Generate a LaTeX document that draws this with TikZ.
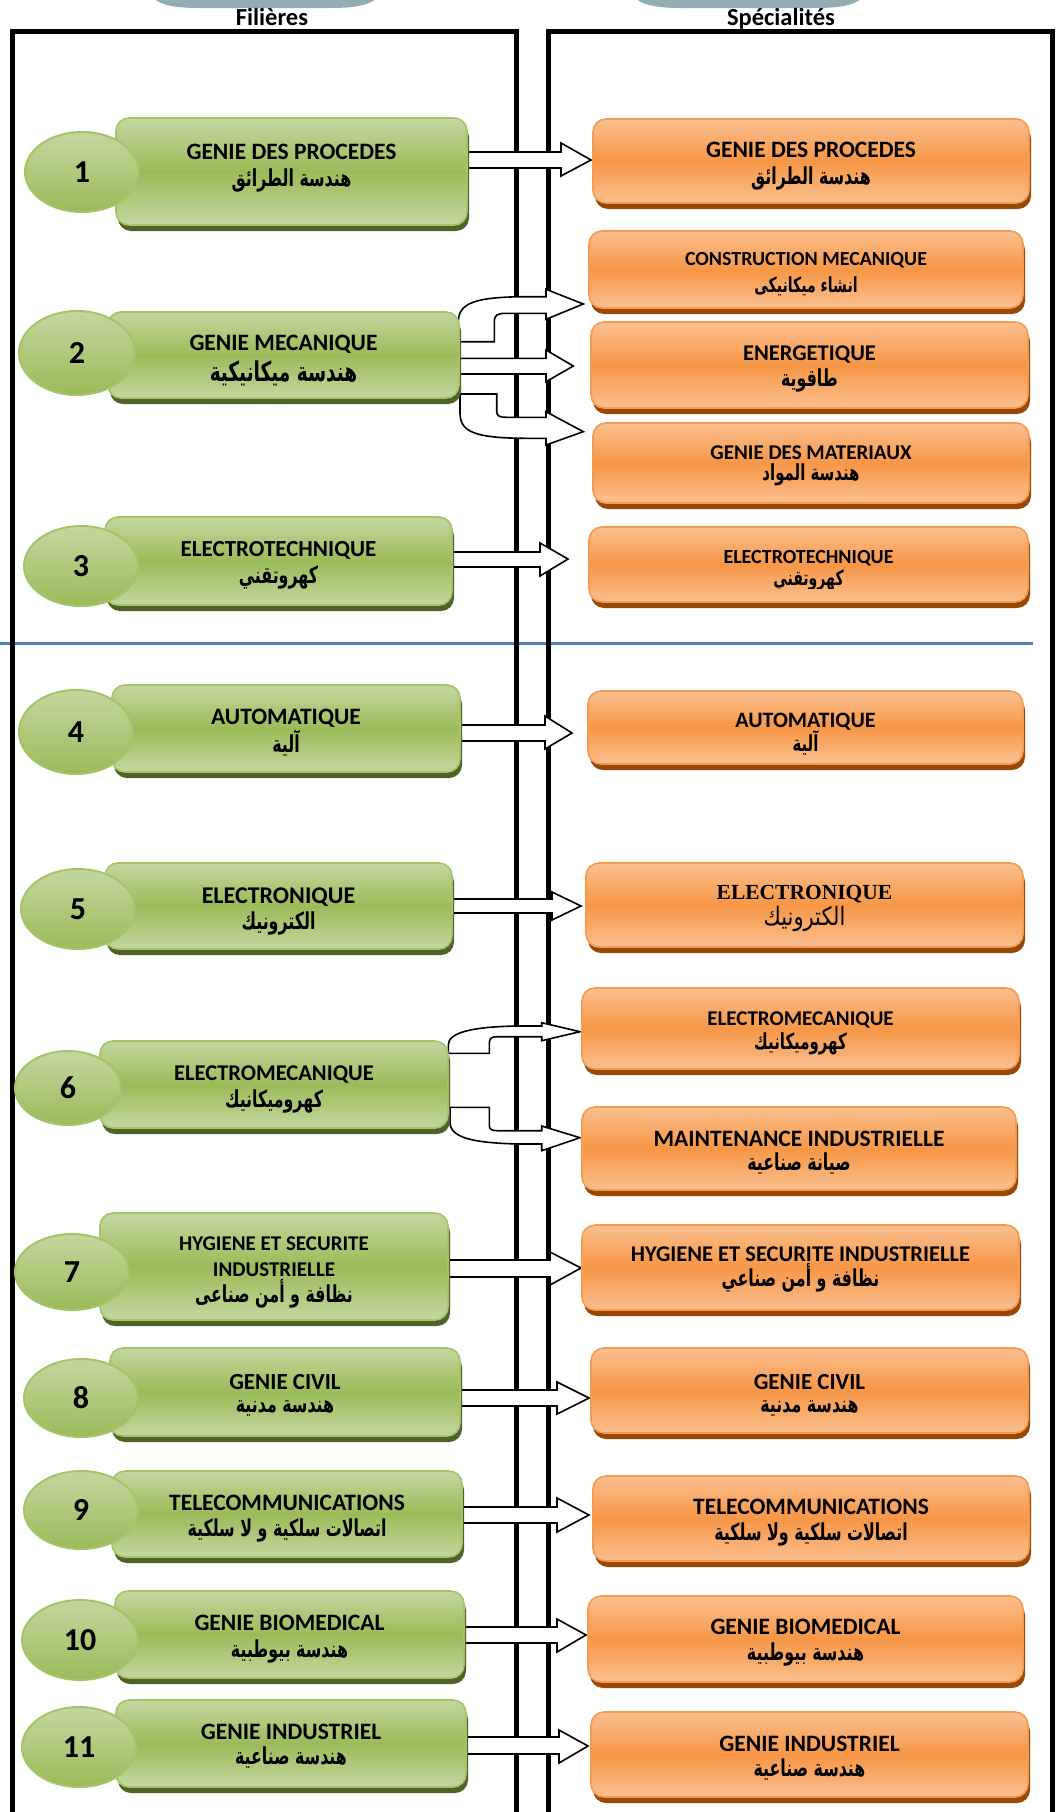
\documentclass[tikz,border=0pt]{standalone}
\usepackage{fontspec}
\setmainfont{Carlito}
\newfontfamily\arabicfont[Script=Arabic]{DejaVu Sans}
\newfontfamily\timesfont{Liberation Serif}
\TeXXeTstate=1
\usetikzlibrary{shapes.geometric,fit,shadows}
\definecolor{glight}{HTML}{C4D79F}
\definecolor{gmid}{HTML}{9BBB59}
\definecolor{gborder}{HTML}{A5C46A}
\definecolor{gdark}{HTML}{4F6228}
\definecolor{olight}{HTML}{FAC090}
\definecolor{omid}{HTML}{F79646}
\definecolor{oborder}{HTML}{F69A50}
\definecolor{odark}{HTML}{984807}
\definecolor{topgray}{HTML}{93ADB5}
\definecolor{rulecol}{HTML}{4F81BD}
\newcommand{\fs}[1]{\fontsize{#1}{#1}\selectfont}
\newcommand{\AR}[1]{\scalebox{0.88}[1.3]{\arabicfont\bfseries\beginR #1\endR}}
\newcommand{\ARr}[1]{\scalebox{1}[1.2]{\arabicfont\beginR #1\endR}}
\tikzset{
  gbox/.style={rectangle, rounded corners=13pt, draw=gborder, line width=1.6pt,
    top color=glight, bottom color=glight, middle color=gmid, inner sep=0pt,
    drop shadow={shadow xshift=2pt, shadow yshift=-6pt, opacity=1, fill=gdark}},
  obox/.style={rectangle, rounded corners=13pt, draw=oborder, line width=1.6pt,
    top color=olight, bottom color=olight, middle color=omid, inner sep=0pt,
    drop shadow={shadow xshift=2pt, shadow yshift=-6pt, opacity=1, fill=odark}},
  numell/.style={ellipse, draw=gborder, line width=2pt, top color=glight,
    bottom color=gmid, inner sep=0pt, font=\fs{32}\bfseries},
  blockarrow/.style={draw=black, fill=white, line width=1.6pt, line join=miter},
  frame/.style={draw=black, line width=5pt, line join=miter},
  lat/.style={anchor=base, inner sep=0pt, font=\bfseries},
  arl/.style={anchor=center, inner sep=0pt},
}
\newcommand{\barrow}[8]{% x0 xh xt s1 s2 h1 h2 ty
  \draw[blockarrow] (#1,#4) -- (#2,#4) -- (#2,#6) -- (#3,#8) -- (#2,#7) -- (#2,#5) -- (#1,#5) -- cycle;}
\begin{document}
\begin{tikzpicture}[x=1pt,y=-1pt]
\useasboundingbox (0,0) rectangle (1062,1812);
% top grey shapes
\fill[topgray] (149,-10) .. controls (152,4) and (170,8) .. (200,8) -- (330,8) .. controls (360,8) and (378,4) .. (381,-10) -- cycle;
\fill[topgray] (631,-10) .. controls (634,4) and (652,8) .. (682,8) -- (815,8) .. controls (845,8) and (863,4) .. (866,-10) -- cycle;
% titles
\node[lat, font=\fs{24.5}\bfseries] (tfil) at (272,25) {Filières};
\node[lat, font=\fs{24.5}\bfseries] (tspe) at (781,25) {Spécialités};
% blue rule
\draw[rulecol, line width=3pt] (0,643) -- (1033,643);
% frames
\draw[frame] (12.5,1840) -- (12.5,31) -- (516,31) -- (516,1840);
\draw[frame] (548,1840) -- (548,31) -- (1052,31) -- (1052,1840);
% straight arrows
\barrow{455}{561}{591}{152}{168}{143}{176}{160}
\barrow{450}{546}{573.3}{358.3}{374}{350}{381.7}{366}
\barrow{445}{540}{568}{552}{567}{543}{576}{559}
\barrow{452}{545}{572}{725}{741}{716}{749}{733}
\barrow{445}{552}{581}{899}{913}{892}{920}{906}
\barrow{440}{550}{581}{1260}{1277}{1252}{1285}{1268}
\barrow{450}{557}{589}{1390}{1406}{1382}{1414}{1398}
\barrow{452}{557}{589}{1507}{1523}{1498}{1532}{1515}
\barrow{455}{557}{586}{1627}{1643}{1619}{1652}{1635}
\barrow{458}{559}{588}{1737}{1754}{1730}{1763}{1746}
% curved arrows row 2
\draw[blockarrow] (458.3,341.7) -- (494.3,341.7) -- (494.3,322)
  .. controls (494.3,315) and (497,313.3) .. (506.7,313.3) -- (546,313.3) -- (546,319.3)
  -- (583.3,304) -- (546,289.3) -- (546,296.7) -- (525,296.7)
  .. controls (475,297) and (458.3,303) .. (458.3,322) -- cycle;
\draw[blockarrow] (460,394) -- (496.7,394) -- (496.7,411)
  .. controls (496.7,416) and (499,417.3) .. (506.7,417.3) -- (546,417.3) -- (546,411.7)
  -- (583.3,431.7) -- (546,445) -- (546,438.3) -- (525,438.3)
  .. controls (475,438) and (460,432) .. (460,413) -- cycle;
% curved arrows row 6
\draw[blockarrow] (448.3,1053.3) -- (489.3,1053.3) -- (489.3,1043)
  .. controls (489.3,1038) and (492,1036.7) .. (497,1036.7) -- (541.7,1036.7) -- (541.7,1040.7)
  -- (580,1031.7) -- (541.7,1022.7) -- (541.7,1026) -- (520,1026)
  .. controls (470,1026.5) and (448.3,1033) .. (448.3,1045) -- cycle;
\draw[blockarrow] (450,1107.3) -- (489.3,1107.3) -- (489.3,1126)
  .. controls (489.3,1129) and (492,1130.7) .. (497,1130.7) -- (541.7,1130.7) -- (541.7,1126)
  -- (580,1137.7) -- (541.7,1150.7) -- (541.7,1144) -- (520,1144)
  .. controls (470,1143) and (450,1137) .. (450,1122) -- cycle;
% green boxes
\node[gbox, fit={(116,118) (467,225)}] (g1) {};
\node[gbox, fit={(108,312) (459,398)}] (g2) {};
\node[gbox, fit={(105,517) (452,605)}] (g3) {};
\node[gbox, fit={(112,685) (460,772)}] (g4) {};
\node[gbox, fit={(105,863) (452,949)}] (g5) {};
\node[gbox, fit={(100,1041) (448,1128)}] (g6) {};
\node[gbox, fit={(100,1213) (448,1320)}] (g7) {};
\node[gbox, fit={(110,1348) (460,1436)}] (g8) {};
\node[gbox, fit={(112,1471) (462,1557)}] (g9) {};
\node[gbox, fit={(115,1591) (464,1678)}] (g10) {};
\node[gbox, fit={(116,1700) (466,1787)}] (g11) {};
% orange boxes
\node[obox, fit={(593,119) (1029,203)}] (o1) {};
\node[obox, fit={(589,231) (1023,308)}] (o2a) {};
\node[obox, fit={(591,322) (1028,408)}] (o2b) {};
\node[obox, fit={(593,423) (1029,503)}] (o2c) {};
\node[obox, fit={(589,527) (1028,602)}] (o3) {};
\node[obox, fit={(588,691) (1023,764)}] (o4) {};
\node[obox, fit={(586,863) (1023,947)}] (o5) {};
\node[obox, fit={(582,988) (1019,1069)}] (o6a) {};
\node[obox, fit={(582,1107) (1016,1190)}] (o6b) {};
\node[obox, fit={(582,1225) (1019,1310)}] (o7) {};
\node[obox, fit={(591,1348) (1028,1433)}] (o8) {};
\node[obox, fit={(593,1476) (1029,1561)}] (o9) {};
\node[obox, fit={(588,1596) (1023,1682)}] (o10) {};
\node[obox, fit={(591,1712) (1028,1797)}] (o11) {};
% number ellipses
\node[numell, minimum width=114pt, minimum height=80pt] (e1) at (82,172) {1};
\node[numell, minimum width=116pt, minimum height=84pt] (e2) at (77,353) {2};
\node[numell, minimum width=114pt, minimum height=80pt] (e3) at (81,566) {3};
\node[numell, minimum width=114pt, minimum height=84pt] (e4) at (76,732) {4};
\node[numell, minimum width=114pt, minimum height=80pt] (e5) at (78,909) {5};
\node[numell, minimum width=106pt, minimum height=74pt] (e6) at (68,1088) {6};
\node[numell, minimum width=114pt, minimum height=76pt] (e7) at (72,1272) {7};
\node[numell, minimum width=114pt, minimum height=78pt] (e8) at (81,1398) {8};
\node[numell, minimum width=114pt, minimum height=78pt] (e9) at (81,1510) {9};
\node[numell, minimum width=116pt, minimum height=80pt] (e10) at (80,1640) {10};
\node[numell, minimum width=114pt, minimum height=80pt] (e11) at (79,1747) {11};
% texts green
\node[lat, font=\fs{23.5}\bfseries] (g1t) at (291.5,159) {GENIE DES PROCEDES};
\node[arl, font=\fs{18}] (g1a) at (291.5,180) {\AR{هندسة الطرائق}};
\node[lat, font=\fs{23.5}\bfseries] (g2t) at (283.5,350) {GENIE MECANIQUE};
\node[arl, font=\fs{21}] (g2a) at (283.5,373) {\AR{هندسة ميكانيكية}};
\node[lat, font=\fs{23}\bfseries] (g3t) at (278.5,556) {ELECTROTECHNIQUE};
\node[arl, font=\fs{18}] (g3a) at (278.5,577) {\AR{كهروتقني}};
\node[lat, font=\fs{23.5}\bfseries] (g4t) at (286,724) {AUTOMATIQUE};
\node[arl, font=\fs{18}] (g4a) at (286,743) {\AR{آلية}};
\node[lat, font=\fs{24}\bfseries] (g5t) at (278.5,903) {ELECTRONIQUE};
\node[arl, font=\fs{18}] (g5a) at (278.5,923) {\AR{الكترونيك}};
\node[lat, font=\fs{22.5}\bfseries] (g6t) at (274,1080) {ELECTROMECANIQUE};
\node[arl, font=\fs{18}] (g6a) at (274,1101) {\AR{كهروميكانيك}};
\node[lat, font=\fs{21}\bfseries] (g7t) at (274,1250) {HYGIENE ET SECURITE};
\node[lat, font=\fs{21}\bfseries] (g7u) at (274,1276) {INDUSTRIELLE};
\node[arl, font=\fs{18}] (g7a) at (274,1294) {\AR{نظافة و أمن صناعى}};
\node[lat, font=\fs{23}\bfseries] (g8t) at (285,1389) {GENIE CIVIL};
\node[arl, font=\fs{18}] (g8a) at (285,1408) {\AR{هندسة مدنية}};
\node[lat, font=\fs{23.5}\bfseries] (g9t) at (287,1510) {TELECOMMUNICATIONS};
\node[arl, font=\fs{18}] (g9a) at (287,1530) {\AR{اتصالات سلكية و لا سلكية}};
\node[lat, font=\fs{23.5}\bfseries] (g10t) at (289.5,1630) {GENIE BIOMEDICAL};
\node[arl, font=\fs{18}] (g10a) at (289.5,1651) {\AR{هندسة بيوطبية}};
\node[lat, font=\fs{23.5}\bfseries] (g11t) at (291,1739) {GENIE INDUSTRIEL};
\node[arl, font=\fs{18}] (g11a) at (291,1758) {\AR{هندسة صناعية}};
% texts orange
\node[lat, font=\fs{23.5}\bfseries] (o1t) at (811,157) {GENIE DES PROCEDES};
\node[arl, font=\fs{18}] (o1a) at (811,178) {\AR{هندسة الطرائق}};
\node[lat, font=\fs{20}\bfseries] (o2at) at (806,265) {CONSTRUCTION MECANIQUE};
\node[arl, font=\fs{16}] (o2aa) at (806,286) {\AR{انشاء ميكانيكى}};
\node[lat, font=\fs{22.5}\bfseries] (o2bt) at (809.5,360) {ENERGETIQUE};
\node[arl, font=\fs{18}] (o2ba) at (809.5,380) {\AR{طاقوية}};
\node[lat, font=\fs{21}\bfseries] (o2ct) at (811,459) {GENIE DES MATERIAUX};
\node[arl, font=\fs{17}] (o2ca) at (811,475) {\AR{هندسة المواد}};
\node[lat, font=\fs{20}\bfseries] (o3t) at (808.5,563) {ELECTROTECHNIQUE};
\begin{scope}
\clip (589,527) rectangle (1028,588);
\node[arl, font=\fs{16}] (o3a) at (808.5,580) {\AR{كهروتقني}};
\end{scope}
\node[lat, font=\fs{22}\bfseries] (o4t) at (805.5,727) {AUTOMATIQUE};
\node[arl, font=\fs{17}] (o4a) at (805.5,743) {\AR{آلية}};
\node[lat, font=\fs{21.5}\timesfont\bfseries] (o5t) at (804.5,899) {ELECTRONIQUE};
\node[arl, font=\fs{21}] (o5a) at (804.5,919) {\ARr{الكترونيك}};
\node[lat, font=\fs{21}\bfseries] (o6at) at (800.5,1025) {ELECTROMECANIQUE};
\node[arl, font=\fs{17}] (o6aa) at (800.5,1044) {\AR{كهروميكانيك}};
\node[lat, font=\fs{23.5}\bfseries] (o6bt) at (799,1146) {MAINTENANCE INDUSTRIELLE};
\node[arl, font=\fs{18}] (o6ba) at (799,1164) {\AR{صيانة صناعية}};
\node[lat, font=\fs{22.5}\bfseries] (o7t) at (800.5,1261) {HYGIENE ET SECURITE INDUSTRIELLE};
\node[arl, font=\fs{18}] (o7a) at (800.5,1278) {\AR{نظافة و أمن صناعي}};
\node[lat, font=\fs{23}\bfseries] (o8t) at (809.5,1389) {GENIE CIVIL};
\node[arl, font=\fs{18}] (o8a) at (809.5,1408) {\AR{هندسة مدنية}};
\node[lat, font=\fs{23.5}\bfseries] (o9t) at (811,1514) {TELECOMMUNICATIONS};
\node[arl, font=\fs{18}] (o9a) at (811,1534) {\AR{اتصالات سلكية ولا سلكية}};
\node[lat, font=\fs{23.5}\bfseries] (o10t) at (805.5,1634) {GENIE BIOMEDICAL};
\node[arl, font=\fs{18}] (o10a) at (805.5,1654) {\AR{هندسة بيوطبية}};
\node[lat, font=\fs{23.5}\bfseries] (o11t) at (809.5,1751) {GENIE INDUSTRIEL};
\node[arl, font=\fs{18}] (o11a) at (809.5,1770) {\AR{هندسة صناعية}};
\end{tikzpicture}
\end{document}
